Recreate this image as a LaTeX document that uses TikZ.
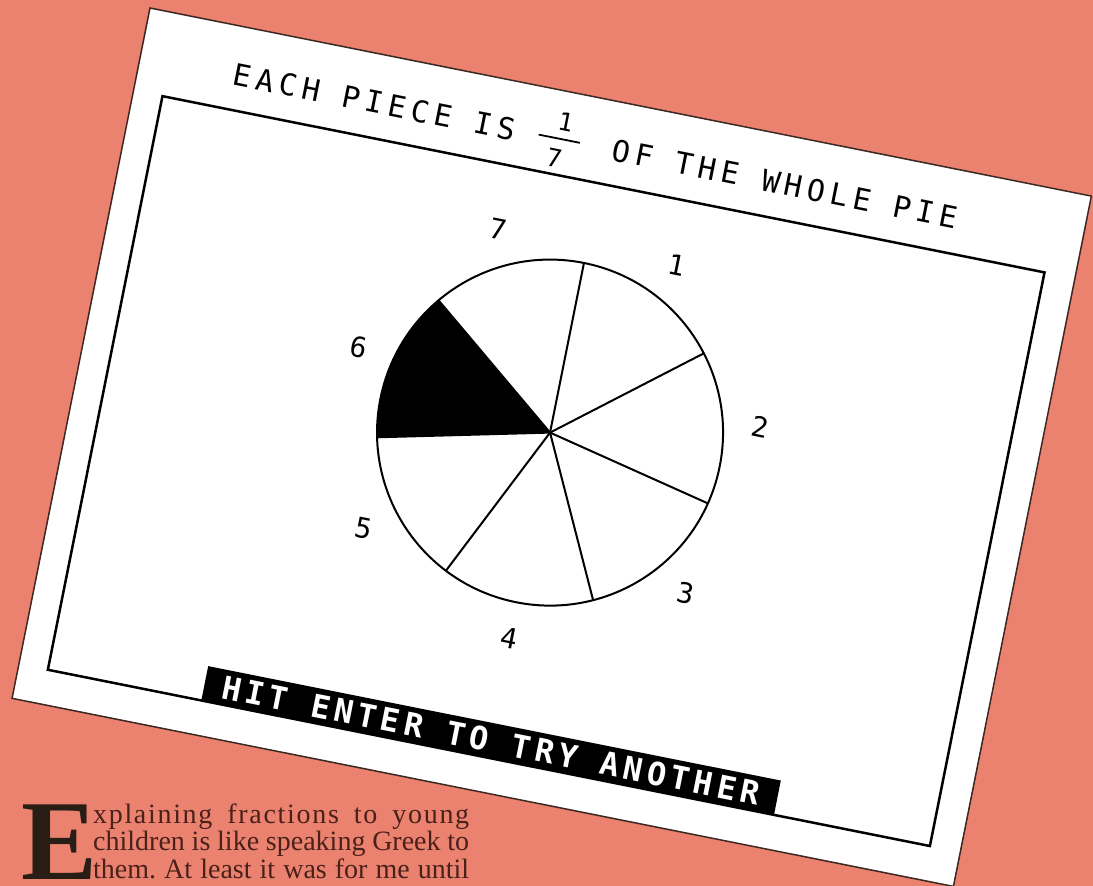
\documentclass[tikz,border=0pt]{standalone}
\usepackage{fontspec}
\setmainfont{Liberation Serif}
\newfontfamily\screenfont{DejaVu Sans Mono}[LetterSpace=17.5]
\newfontfamily\bannerfont{DejaVu Sans Mono}[LetterSpace=14]
\usetikzlibrary{positioning, calc}
\definecolor{salmon}{RGB}{235,130,111}
\definecolor{inkbrown}{RGB}{74,32,26}
\definecolor{capbrown}{RGB}{40,30,22}
\definecolor{cardedge}{RGB}{60,40,34}
\tikzset{
  card/.style={fill=white, draw=cardedge, line width=1.5pt},
  frame/.style={draw=black, line width=2.5pt},
  pieline/.style={draw=black, line width=2pt},
  screentext/.style={font=\screenfont\fontsize{30}{30}\selectfont, inner sep=0pt},
  numlabel/.style={font=\screenfont\fontsize{28}{28}\selectfont, inner sep=0pt},
  fracdigit/.style={font=\screenfont\fontsize{25}{25}\selectfont, inner sep=0pt},
  banner/.style={fill=black, text=white, inner sep=0pt, minimum width=584pt, minimum height=35pt,
    font=\bannerfont\bfseries\fontsize{32}{32}\selectfont},
  bodyline/.style={anchor=base west, inner sep=0pt, text=inkbrown, font=\fontsize{28}{28}\selectfont},
  dropcap/.style={anchor=base west, inner sep=0pt, text=capbrown, font=\bfseries\fontsize{114}{114}\selectfont},
}
\frenchspacing
\begin{document}
\begin{tikzpicture}[x=1pt, y=1pt]
  \fill[salmon] (0,0) rectangle (1093,-886);
  \useasboundingbox (0,0) rectangle (1093,-886);

  % the screen print, turned on the page
  \begin{scope}[shift={(150,-8)}, rotate=-11.3, transform shape]
    \draw[card] (0,0) rectangle (960,-704);
    \draw[frame] (29.5,-84) rectangle (929,-669);

    \node[screentext, anchor=base west] (titleleft) at (95,-59) {EACH PIECE IS};
    \node[fracdigit] (fracnum) at (430,-30) {1};
    \node[fracdigit] (fracden) at (426,-68) {7};
    \coordinate (barleft) at (406,-48);
    \coordinate (barright) at (448,-48);
    \draw[line width=1.8pt] (barleft) -- (barright);
    \node[screentext, anchor=base west] (titleright) at (481,-59) {OF THE WHOLE PIE};

    % pie in seven pieces, piece 6 shaded
    \coordinate (c) at (475.5,-338);
    \fill[black] (c) -- ++(141.43:173) arc[start angle=141.43, end angle=192.86, radius=173] -- cycle;
    \draw[pieline] (c) circle[radius=173];
    \foreach \k in {0,...,6}
      \draw[pieline] (c) -- ++({90-\k*360/7}:173);
    \foreach \k in {1,...,7}
      \node[numlabel] (num\k) at ($(c)+({90-(\k-0.5)*360/7}:210)$) {\k};

    \node[banner] (hint) at (478,-651.5) {HIT ENTER TO TRY ANOTHER};
  \end{scope}

  % start of the article
  \node[dropcap] (bigE) at (21,-879) {E};
  \node[bodyline] (line1) at (93,-823) {\makebox[376pt][s]{\addfontfeatures{LetterSpace=6}xplaining fractions to young}};
  \node[bodyline] (line2) at (93,-850.5) {\makebox[376pt][s]{children is like speaking Greek to}};
  \node[bodyline] (line3) at (93,-878) {\makebox[376pt][s]{them. At least it was for me until}};
\end{tikzpicture}
\end{document}
